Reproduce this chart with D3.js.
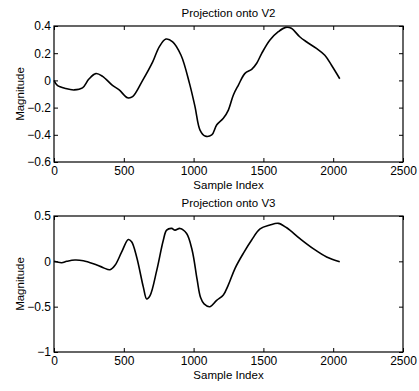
<!DOCTYPE html>
<html>
<head>
<meta charset="utf-8">
<script src="https://cdn.jsdelivr.net/npm/d3@7"></script>
<style>
body { margin: 0; background: #fff; }
text { font-family: 'Liberation Sans', Arial, sans-serif; fill: #000; }
</style>
</head>
<body>
<div id="chart"></div>
<script>
// values
const v2Samples = [0, 24, 84, 144, 204, 250, 300, 348, 419, 467, 527, 563, 635, 707, 754, 802, 850, 910, 970, 1010, 1046, 1082, 1130, 1165, 1213, 1249, 1285, 1321, 1368, 1416, 1452, 1488, 1547, 1607, 1660, 1700, 1760, 1808, 1880, 1940, 1988, 2047]
const v2Values = [0.0, -0.037, -0.06, -0.07, -0.055, 0.01, 0.05, 0.03, -0.037, -0.07, -0.128, -0.12, 0.0, 0.136, 0.247, 0.304, 0.284, 0.185, -0.02, -0.193, -0.365, -0.409, -0.401, -0.328, -0.279, -0.218, -0.107, -0.034, 0.052, 0.081, 0.126, 0.199, 0.297, 0.358, 0.39, 0.383, 0.321, 0.284, 0.235, 0.185, 0.111, 0.012]

const v3Samples = [0, 55, 91, 150, 210, 282, 353, 401, 437, 485, 532, 556, 592, 640, 664, 688, 736, 783, 807, 843, 867, 903, 950, 990, 1025, 1050, 1075, 1117, 1165, 1213, 1249, 1297, 1356, 1416, 1476, 1547, 1607, 1667, 1762, 1857, 1953, 2047]
const v3Values = [0.0, -0.015, 0.0, 0.015, 0.007, -0.026, -0.07, -0.093, -0.044, 0.104, 0.241, 0.215, 0.048, -0.285, -0.415, -0.378, -0.1, 0.233, 0.344, 0.363, 0.344, 0.363, 0.307, 0.12, -0.2, -0.4, -0.47, -0.5, -0.43, -0.37, -0.26, -0.077, 0.088, 0.235, 0.357, 0.4, 0.419, 0.37, 0.25, 0.14, 0.048, -0.005]

const xTicks = [0, 500, 1000, 1500, 2000, 2500]
const v2Ticks = [0.4, 0.2, 0, -0.2, -0.4, -0.6]
const v3Ticks = [0.5, 0, -0.5, -1]

const width = 419, height = 391

let svg = d3.select('#chart')
.append('svg')
.attr('width', width)
.attr('height', height)

const panels = [
	{ title: 'Projection onto V2', xs: v2Samples, ys: v2Values, yDomain: [-0.6, 0.4], yTicks: v2Ticks, top: 26, bottom: 162 },
	{ title: 'Projection onto V3', xs: v3Samples, ys: v3Values, yDomain: [-1, 0.5], yTicks: v3Ticks, top: 216, bottom: 352 }
]

const left = 54, right = 403

panels.forEach(p => {
	let xScale = d3.scaleLinear()
	.domain([0, 2500])
	.range([left, right])

	let yScale = d3.scaleLinear()
	.domain(p.yDomain)
	.range([p.bottom, p.top])

	let g = svg.append('g')

	// frame
	g.append('rect')
	.attr('x', left)
	.attr('y', p.top)
	.attr('width', right - left)
	.attr('height', p.bottom - p.top)
	.attr('fill', 'none')
	.attr('stroke', '#000')
	.attr('stroke-width', 1.2)

	let fmt = d => d3.format('')(d)

	// axes, ticks pointing inward like matlab
	g.append('g')
	.attr('transform', `translate(0, ${p.bottom})`)
	.call(d3.axisBottom(xScale).tickValues(xTicks).tickSize(-4).tickPadding(4).tickFormat(fmt))
	g.append('g')
	.attr('transform', `translate(0, ${p.top})`)
	.call(d3.axisTop(xScale).tickValues(xTicks).tickSize(-4).tickFormat(''))
	g.append('g')
	.attr('transform', `translate(${left}, 0)`)
	.call(d3.axisLeft(yScale).tickValues(p.yTicks).tickSize(-4).tickPadding(3).tickFormat(fmt))
	g.append('g')
	.attr('transform', `translate(${right}, 0)`)
	.call(d3.axisRight(yScale).tickValues(p.yTicks).tickSize(-4).tickFormat(''))

	g.selectAll('.domain').remove()
	g.selectAll('.tick line').attr('stroke', '#000').attr('stroke-width', 1)
	g.selectAll('.tick text').style('font-size', '12px').attr('fill', '#000')
	g.selectAll('g').attr('font-family', null)

	let lineFunc = d3.line()
	.x(d => xScale(d[0]))
	.y(d => yScale(d[1]))
	.curve(d3.curveCatmullRom)

	g.append('path')
	.datum(d3.zip(p.xs, p.ys))
	.attr('d', lineFunc)
	.attr('fill', 'none')
	.attr('stroke', '#000')
	.attr('stroke-width', 1.6)

	g.append('text')
	.attr('x', (left + right) / 2)
	.attr('y', p.top - 9)
	.attr('text-anchor', 'middle')
	.style('font-size', '11.5px')
	.text(p.title)

	g.append('text')
	.attr('x', (left + right) / 2)
	.attr('y', p.bottom + 27)
	.attr('text-anchor', 'middle')
	.style('font-size', '11.5px')
	.text('Sample Index')

	g.append('text')
	.attr('transform', `translate(24, ${(p.top + p.bottom) / 2}) rotate(-90)`)
	.attr('text-anchor', 'middle')
	.style('font-size', '11.5px')
	.text('Magnitude')
})
</script>
</body>
</html>
